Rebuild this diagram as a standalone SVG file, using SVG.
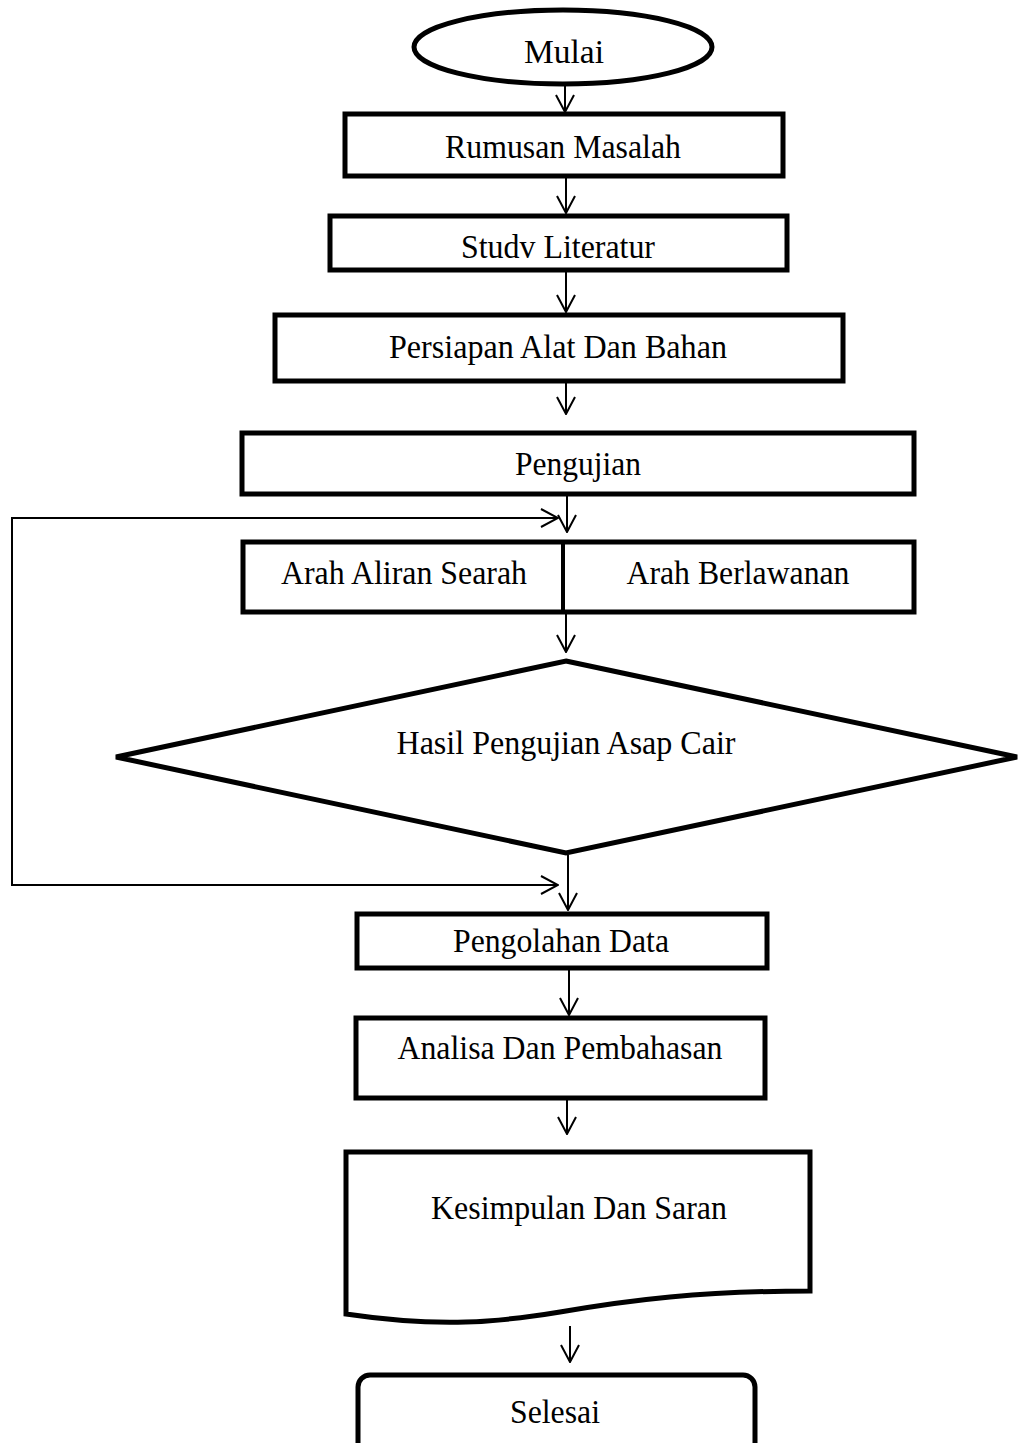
<svg xmlns="http://www.w3.org/2000/svg" width="1021" height="1443" viewBox="0 0 1021 1443">
<style>
.box{fill:#fff;stroke:#000;stroke-width:5}
.lbl{font-family:"Liberation Serif","Times New Roman",serif;font-size:34px;fill:#000;text-anchor:middle}
.con{fill:none;stroke:#000;stroke-width:2}
</style>
<defs>
<marker id="ah" viewBox="0 0 20 20" refX="19" refY="10" markerWidth="20" markerHeight="20" markerUnits="userSpaceOnUse" orient="auto-start-reverse">
<path d="M2,1 L19,10 L2,19" fill="none" stroke="#000" stroke-width="2"/>
</marker>
</defs>
<rect width="1021" height="1443" fill="#fff"/>
<g id="connectors">
<line class="con" x1="565" y1="71" x2="565" y2="112" marker-end="url(#ah)"/>
<line class="con" x1="566" y1="177" x2="566" y2="213" marker-end="url(#ah)"/>
<line class="con" x1="566" y1="271" x2="566" y2="312" marker-end="url(#ah)"/>
<line class="con" x1="566" y1="382" x2="566" y2="414" marker-end="url(#ah)"/>
<line class="con" x1="567" y1="495" x2="567" y2="532" marker-end="url(#ah)"/>
<line class="con" x1="566" y1="613" x2="566" y2="652" marker-end="url(#ah)"/>
<line class="con" x1="568" y1="855" x2="568" y2="910" marker-end="url(#ah)"/>
<line class="con" x1="569" y1="969" x2="569" y2="1015" marker-end="url(#ah)"/>
<line class="con" x1="567" y1="1099" x2="567" y2="1134" marker-end="url(#ah)"/>
<line class="con" x1="570" y1="1326" x2="570" y2="1362" marker-end="url(#ah)"/>
<path class="con" d="M558,518 H12 V885 H558" marker-start="url(#ah)" marker-end="url(#ah)"/>
</g>
<g id="mulai">
<ellipse class="box" cx="563" cy="47" rx="149" ry="37" stroke-width="4.5"/>
<text class="lbl" x="564" y="63" textLength="80" lengthAdjust="spacingAndGlyphs">Mulai</text>
</g>
<g id="rumusan">
<rect class="box" x="345" y="114" width="438" height="62"/>
<text class="lbl" x="563" y="158" textLength="236" lengthAdjust="spacingAndGlyphs">Rumusan Masalah</text>
</g>
<g id="studi">
<rect class="box" x="330" y="216" width="457" height="54"/>
<text class="lbl" x="558" y="258" textLength="194" lengthAdjust="spacingAndGlyphs">Studv Literatur</text>
</g>
<g id="persiapan">
<rect class="box" x="275" y="315" width="568" height="66"/>
<text class="lbl" x="558" y="358" textLength="338" lengthAdjust="spacingAndGlyphs">Persiapan Alat Dan Bahan</text>
</g>
<g id="pengujian">
<rect class="box" x="242" y="433" width="672" height="61"/>
<text class="lbl" x="578" y="475" textLength="126" lengthAdjust="spacingAndGlyphs">Pengujian</text>
</g>
<g id="arah">
<rect class="box" x="243" y="542" width="671" height="70"/>
<line x1="563" y1="542" x2="563" y2="612" stroke="#000" stroke-width="4"/>
<text class="lbl" x="404" y="584" textLength="246" lengthAdjust="spacingAndGlyphs">Arah Aliran Searah</text>
<text class="lbl" x="738" y="584" textLength="223" lengthAdjust="spacingAndGlyphs">Arah Berlawanan</text>
</g>
<g id="hasil">
<polygon class="box" points="566,661 1017,757 566,853 116,757"/>
<text class="lbl" x="566" y="754" textLength="339" lengthAdjust="spacingAndGlyphs">Hasil Pengujian Asap Cair</text>
</g>
<g id="pengolahan">
<rect class="box" x="357" y="914" width="410" height="54"/>
<text class="lbl" x="561" y="952" textLength="216" lengthAdjust="spacingAndGlyphs">Pengolahan Data</text>
</g>
<g id="analisa">
<rect class="box" x="356" y="1018" width="409" height="80"/>
<text class="lbl" x="560" y="1059" textLength="325" lengthAdjust="spacingAndGlyphs">Analisa Dan Pembahasan</text>
</g>
<g id="kesimpulan">
<path class="box" d="M346,1152 H810 V1291 C700,1291 630,1300 560,1312 C500,1322 440,1328 346,1314 Z"/>
<text class="lbl" x="579" y="1219" textLength="296" lengthAdjust="spacingAndGlyphs">Kesimpulan Dan Saran</text>
</g>
<g id="selesai">
<rect class="box" x="358" y="1375" width="397" height="90" rx="12" ry="12"/>
<text class="lbl" x="555" y="1423" textLength="90" lengthAdjust="spacingAndGlyphs">Selesai</text>
</g>
</svg>
